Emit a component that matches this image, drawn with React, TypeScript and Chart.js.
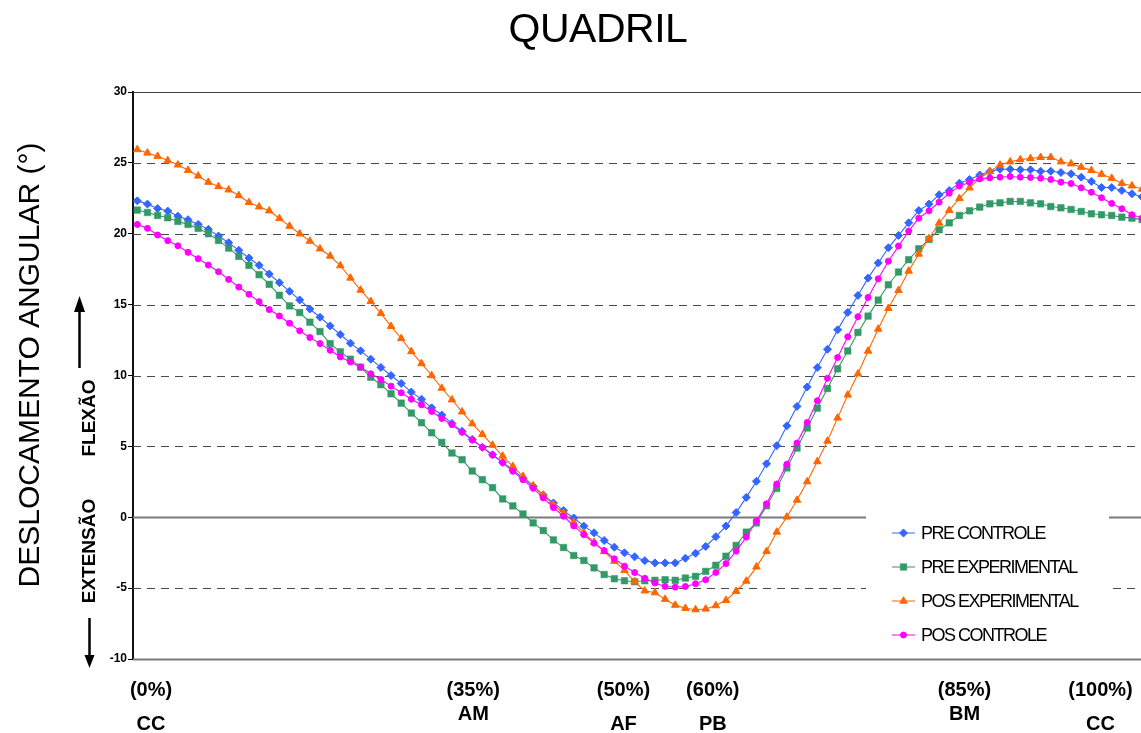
import React, { useEffect, useRef } from 'react';
import { Chart, registerables } from 'chart.js';
import { drawPoint } from 'chart.js/helpers';

Chart.register(...registerables);

// % of gait cycle (one point per percent)
const cyclePct: number[] = Array.from({ length: 101 }, (_, i) => i);

const seriesNames = ['PRE CONTROLE', 'PRE EXPERIMENTAL', 'POS EXPERIMENTAL', 'POS CONTROLE'];

const preControle = [
  22.32, 22.09, 21.78, 21.6, 21.24, 20.99, 20.66, 20.31, 19.84, 19.37,
  18.83, 18.29, 17.77, 17.16, 16.55, 15.94, 15.33, 14.69, 14.11, 13.5,
  12.89, 12.28, 11.74, 11.15, 10.57, 10.0, 9.44, 8.83, 8.33, 7.72,
  7.21, 6.62, 6.06, 5.49, 4.93, 4.41, 3.87, 3.33, 2.75, 2.18,
  1.57, 1.01, 0.47, -0.05, -0.63, -1.1, -1.64, -2.11, -2.51, -2.79,
  -3.06, -3.22, -3.22, -3.22, -2.89, -2.54, -2.06, -1.37, -0.62, 0.33,
  1.4, 2.54, 3.77, 5.05, 6.45, 7.82, 9.19, 10.56, 11.85, 13.22,
  14.45, 15.65, 16.87, 17.94, 19.01, 19.88, 20.77, 21.64, 22.09, 22.75,
  23.05, 23.57, 23.83, 24.15, 24.39, 24.55, 24.55, 24.51, 24.51, 24.41,
  24.41, 24.32, 24.23, 23.99, 23.69, 23.26, 23.26, 23.05, 22.82, 22.6,
  22.4,
];

const preExperimental = [
  21.67, 21.5, 21.29, 21.13, 20.87, 20.66, 20.38, 20.0, 19.53, 18.99,
  18.4, 17.77, 17.11, 16.43, 15.66, 14.91, 14.44, 13.76, 13.1, 12.25,
  11.67, 11.15, 10.59, 9.88, 9.35, 8.71, 8.05, 7.35, 6.67, 5.96,
  5.28, 4.53, 4.06, 3.26, 2.65, 2.09, 1.29, 0.8, 0.23, -0.4,
  -0.94, -1.6, -2.14, -2.7, -3.05, -3.57, -4.04, -4.34, -4.48, -4.55,
  -4.48, -4.45, -4.41, -4.45, -4.29, -4.17, -3.82, -3.39, -2.75, -1.99,
  -1.05, -0.4, 0.81, 2.04, 3.48, 4.88, 6.3, 7.7, 9.08, 10.47,
  11.73, 13.04, 14.19, 15.32, 16.4, 17.3, 18.17, 18.94, 19.6, 20.28,
  20.77, 21.29, 21.62, 21.88, 22.11, 22.18, 22.28, 22.28, 22.18, 22.11,
  21.92, 21.83, 21.71, 21.57, 21.41, 21.34, 21.29, 21.17, 21.1, 21.0,
  20.95,
];

const posExperimental = [
  25.94, 25.7, 25.47, 25.16, 24.86, 24.48, 24.08, 23.64, 23.33, 23.1,
  22.7, 22.21, 21.9, 21.62, 21.08, 20.54, 20.0, 19.48, 18.94, 18.43,
  17.75, 16.88, 16.03, 15.23, 14.38, 13.47, 12.61, 11.69, 10.85, 10.0,
  9.11, 8.29, 7.44, 6.6, 5.85, 5.09, 4.32, 3.59, 2.89, 2.23,
  1.57, 0.9, 0.3, -0.35, -1.1, -1.76, -2.42, -3.1, -3.75, -4.55,
  -5.19, -5.32, -5.78, -6.2, -6.42, -6.52, -6.47, -6.23, -5.86, -5.22,
  -4.5, -3.5, -2.4, -1.04, 0.02, 1.21, 2.51, 3.93, 5.38, 7.01,
  8.63, 10.12, 11.73, 13.28, 14.74, 16.01, 17.37, 18.57, 19.67, 20.76,
  21.65, 22.49, 23.24, 23.92, 24.39, 24.85, 25.08, 25.23, 25.31, 25.39,
  25.39, 25.08, 24.94, 24.7, 24.47, 24.2, 23.92, 23.55, 23.38, 23.15,
  22.9,
];

const posControle = [
  20.66, 20.38, 19.91, 19.51, 19.15, 18.69, 18.24, 17.79, 17.32, 16.78,
  16.24, 15.73, 15.21, 14.65, 14.2, 13.69, 13.15, 12.68, 12.25, 11.78,
  11.31, 10.96, 10.59, 10.12, 9.72, 9.25, 8.78, 8.33, 7.93, 7.46,
  6.97, 6.53, 5.99, 5.45, 4.93, 4.39, 3.85, 3.24, 2.65, 2.04,
  1.36, 0.68, 0.07, -0.61, -1.24, -1.83, -2.35, -2.93, -3.45, -3.9,
  -4.31, -4.64, -4.88, -4.93, -4.88, -4.69, -4.41, -3.89, -3.27, -2.39,
  -1.4, -0.26, 0.95, 2.35, 3.74, 5.24, 6.68, 8.22, 9.8, 11.27,
  12.73, 14.15, 15.51, 16.82, 18.06, 19.13, 20.19, 21.1, 21.62, 22.23,
  22.86, 23.36, 23.64, 23.87, 23.94, 23.99, 24.04, 23.99, 23.97, 23.92,
  23.83, 23.64, 23.54, 23.24, 22.93, 22.54, 22.14, 21.76, 21.34, 21.1,
  20.9,
];

const yTickValues = [-10, -5, 0, 5, 10, 15, 20, 25, 30];
const phasePctLabels = ['(0%)', '(35%)', '(50%)', '(60%)', '(85%)', '(100%)'];
const phaseNames = ['CC', 'AM', 'AF', 'PB', 'BM', 'CC'];
const phaseAxisPos = [1.35, 33.1, 47.9, 56.7, 81.5, 94.9];

const FONT = '"Liberation Sans", Arial, sans-serif';

const decorPlugin = {
  id: 'decor',
  beforeDatasetsDraw(chart: any) {
    const { ctx, chartArea, scales } = chart;
    const y = scales.y;
    ctx.save();
    yTickValues.forEach((v) => {
      const py = Math.round(y.getPixelForValue(v)) + 0.5;
      ctx.beginPath();
      if (v === 0 || v === -10) {
        ctx.setLineDash([]);
        ctx.strokeStyle = '#7a7a7a';
        ctx.lineWidth = 2;
      } else if (v === 30) {
        ctx.setLineDash([]);
        ctx.strokeStyle = '#404040';
        ctx.lineWidth = 1.2;
      } else {
        ctx.setLineDash([8, 6]);
        ctx.strokeStyle = '#4a4a4a';
        ctx.lineWidth = 1.2;
      }
      ctx.moveTo(chartArea.left, py);
      ctx.lineTo(chartArea.right, py);
      ctx.stroke();
    });
    ctx.restore();
  },
  afterDraw(chart: any) {
    const { ctx, scales } = chart;
    const x = scales.x;
    ctx.save();
    ctx.fillStyle = '#000';
    ctx.strokeStyle = '#000';

    // title
    ctx.font = `41px ${FONT}`;
    ctx.textAlign = 'center';
    ctx.textBaseline = 'alphabetic';
    (ctx as any).letterSpacing = '-0.5px';
    ctx.fillText('QUADRIL', 598, 42);
    (ctx as any).letterSpacing = '0px';

    // y-axis title
    ctx.save();
    ctx.translate(39, 365);
    ctx.rotate(-Math.PI / 2);
    ctx.font = `30px ${FONT}`;
    ctx.textAlign = 'center';
    ctx.fillText('DESLOCAMENTO ANGULAR (°)', 0, 0);
    ctx.restore();

    // FLEXÃO / EXTENSÃO
    ctx.save();
    ctx.font = `bold 19px ${FONT}`;
    ctx.textAlign = 'center';
    ctx.translate(95, 418);
    ctx.rotate(-Math.PI / 2);
    ctx.fillText('FLEXÃO', 0, 0);
    ctx.restore();
    ctx.save();
    ctx.font = `bold 19px ${FONT}`;
    ctx.textAlign = 'center';
    ctx.translate(95, 551);
    ctx.rotate(-Math.PI / 2);
    ctx.fillText('EXTENSÃO', 0, 0);
    ctx.restore();

    // arrows
    ctx.lineWidth = 2.5;
    ctx.beginPath();
    ctx.moveTo(79.5, 368);
    ctx.lineTo(79.5, 306);
    ctx.stroke();
    ctx.beginPath();
    ctx.moveTo(79.5, 296);
    ctx.lineTo(74, 312);
    ctx.lineTo(85, 312);
    ctx.closePath();
    ctx.fill();
    ctx.beginPath();
    ctx.moveTo(89.5, 618);
    ctx.lineTo(89.5, 658);
    ctx.stroke();
    ctx.beginPath();
    ctx.moveTo(89.5, 668);
    ctx.lineTo(84.5, 655);
    ctx.lineTo(94.5, 655);
    ctx.closePath();
    ctx.fill();

    // phase labels
    ctx.font = `bold 20px ${FONT}`;
    ctx.textAlign = 'center';
    ctx.textBaseline = 'middle';
    phaseAxisPos.forEach((p, i) => {
      const px = x.getPixelForValue(p);
      ctx.fillText(phasePctLabels[i], px, 690);
      const raised = phaseNames[i] === 'AM' || phaseNames[i] === 'BM';
      ctx.fillText(phaseNames[i], px, raised ? 714 : 724);
    });

    // legend
    ctx.fillStyle = '#fff';
    ctx.fillRect(866, 507, 243, 146);
    ctx.textAlign = 'left';
    ctx.textBaseline = 'middle';
    ctx.font = `18px ${FONT}`;
    chart.data.datasets.forEach((ds: any, i: number) => {
      const ly = 533 + i * 34;
      ctx.setLineDash([]);
      ctx.strokeStyle = ds.borderColor;
      ctx.lineWidth = 1;
      ctx.beginPath();
      ctx.moveTo(892, ly);
      ctx.lineTo(915, ly);
      ctx.stroke();
      ctx.fillStyle = ds.pointBackgroundColor;
      ctx.strokeStyle = ds.pointBorderColor;
      ctx.lineWidth = ds.pointBorderWidth;
      drawPoint(ctx, { pointStyle: ds.pointStyle, radius: ds.pointRadius, rotation: 0, borderWidth: ds.pointBorderWidth }, 903.5, ly);
      ctx.fillStyle = '#000';
      (ctx as any).letterSpacing = '-1.5px';
      ctx.fillText(ds.label, 921, ly + 1);
      (ctx as any).letterSpacing = '0px';
    });
    ctx.restore();
  },
};

const colors = ['#3366FF', '#339966', '#FF6600', '#FF00FF'];
const styles = ['rectRot', 'rect', 'triangle', 'circle'];
const radii = [4, 4.6, 4.3, 3];
const drawOrder = [3, 2, 1, 0];
const seriesValues = [preControle, preExperimental, posExperimental, posControle];

export default function App() {
  const canvasRef = useRef<HTMLCanvasElement | null>(null);

  useEffect(() => {
    document.body.style.margin = '0';
    document.body.style.overflow = 'hidden';
    const canvas = canvasRef.current;
    if (!canvas) return;
    const chart = new Chart(canvas, {
      type: 'line',
      data: {
        datasets: seriesValues.map((vals, s) => ({
          label: seriesNames[s],
          data: vals.map((v, i) => ({ x: cyclePct[i], y: v })),
          borderColor: colors[s],
          backgroundColor: colors[s],
          pointBackgroundColor: colors[s],
          pointBorderColor: s === 1 ? 'rgba(51,153,102,0.55)' : colors[s],
          pointBorderWidth: 1,
          pointStyle: styles[s],
          pointRadius: radii[s],
          borderWidth: 1.1,
          tension: 0,
          fill: false,
          order: drawOrder[s],
        })),
      },
      options: {
        animation: false,
        responsive: false,
        devicePixelRatio: 1,
        layout: { autoPadding: false, padding: { top: 92, bottom: 74, left: 0, right: 0 } },
        plugins: {
          legend: { display: false },
          title: { display: false },
          tooltip: { enabled: false },
        },
        scales: {
          x: {
            type: 'linear',
            min: -0.424,
            max: 98.89,
            display: false,
          },
          y: {
            min: -10,
            max: 30,
            afterFit(scale: any) {
              scale.width = 133;
            },
            afterBuildTicks(scale: any) {
              scale.ticks = yTickValues.map((v) => ({ value: v }));
            },
            ticks: {
              color: '#000',
              padding: 1,
              font: { family: FONT, size: 12, weight: 'bold' },
            },
            grid: {
              drawOnChartArea: false,
              drawTicks: true,
              tickLength: 5,
              tickColor: '#000',
              tickWidth: 1,
            },
            border: { display: true, color: '#111', width: 2 },
          },
        },
      } as any,
      plugins: [decorPlugin],
    });
    return () => chart.destroy();
  }, []);

  return (
    <div style={{ width: 1141, height: 733, position: 'relative' }}>
      <canvas ref={canvasRef} width={1141} height={733} style={{ display: 'block' }} />
    </div>
  );
}
